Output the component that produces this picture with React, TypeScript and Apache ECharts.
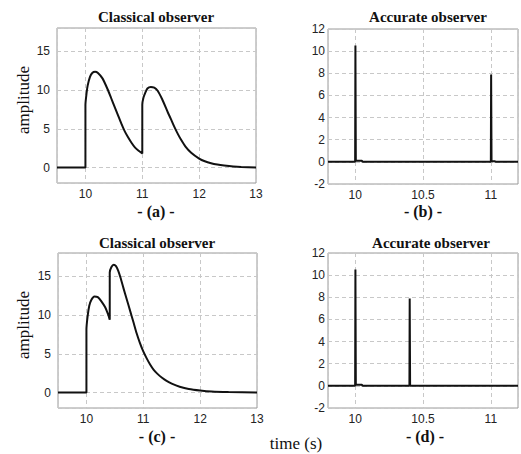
import React, { useEffect, useRef } from "react";
import * as echarts from "echarts";

// ---- data (time s, amplitude) ----
const classicalA: [number, number][] = [
  [9.5, 0], [10, 0], [10, 8.1], [10.02, 9.6], [10.04, 10.6], [10.08, 11.7], [10.12, 12.2],
  [10.17, 12.35], [10.22, 12.2], [10.3, 11.5], [10.39, 10.1], [10.45, 9.0], [10.51, 7.9],
  [10.57, 6.8], [10.63, 5.7], [10.69, 4.7], [10.75, 3.9], [10.81, 3.2], [10.87, 2.6],
  [10.93, 2.2], [11.0, 1.8], [11.0, 8.1], [11.02, 9.0], [11.05, 9.6], [11.09, 10.2],
  [11.15, 10.4], [11.21, 10.3], [11.27, 9.9], [11.35, 8.8], [11.45, 7.1], [11.5, 6.3],
  [11.56, 5.3], [11.62, 4.4], [11.68, 3.6], [11.76, 2.7], [11.86, 1.9], [12.0, 1.15],
  [12.1, 0.8], [12.21, 0.55], [12.32, 0.38], [12.44, 0.25], [12.6, 0.12], [12.74, 0.05], [13, 0],
];
const classicalC: [number, number][] = [
  [9.5, 0], [10, 0], [10, 8.1], [10.02, 9.8], [10.05, 11.2], [10.09, 12.0], [10.14, 12.4],
  [10.2, 12.3], [10.26, 11.8], [10.33, 11.0], [10.38, 10.1], [10.41, 9.4], [10.41, 15.5],
  [10.44, 16.2], [10.48, 16.5], [10.52, 16.3], [10.56, 15.7], [10.6, 14.8], [10.65, 13.5],
  [10.71, 12.0], [10.77, 10.5], [10.83, 9.0], [10.88, 7.7], [10.94, 6.4], [11.0, 5.3],
  [11.06, 4.4], [11.12, 3.6], [11.18, 2.95], [11.25, 2.4], [11.33, 1.9], [11.41, 1.5],
  [11.5, 1.15], [11.64, 0.75], [11.8, 0.45], [12.0, 0.25], [12.2, 0.12], [12.5, 0.05], [13, 0],
];
const accurateB: [number, number][] = [
  [9.8, 0], [10, 0], [10.002, 10.5], [10.005, 0.1], [10.05, 0.1], [10.055, 0],
  [11, 0], [11.002, 7.9], [11.005, 0.08], [11.03, 0.05], [11.035, 0], [11.2, 0],
];
const accurateD: [number, number][] = [
  [9.8, 0], [10, 0], [10.002, 10.5], [10.005, 0.1], [10.05, 0.1], [10.055, 0],
  [10.4, 0], [10.402, 7.9], [10.405, 0], [11.2, 0],
];

const panelTitles = ["Classical observer", "Accurate observer", "Classical observer", "Accurate observer"];
const panelLabels = ["- (a) -", "- (b) -", "- (c) -", "- (d) -"];
const yName = "amplitude";
const xName = "time (s)";

const SANS = "'Liberation Sans', Arial, sans-serif";
const SERIF = "'Liberation Serif', 'Times New Roman', serif";

const isMult = (v: number, step: number) => Math.abs(v / step - Math.round(v / step)) < 1e-6;

function App() {
  const ref = useRef<HTMLDivElement>(null);
  useEffect(() => {
    if (!ref.current) return;
    const chart = echarts.init(ref.current, undefined, { renderer: "svg" });

    const grids = [
      { left: 57, top: 28, width: 199, height: 155 },
      { left: 328, top: 29, width: 198, height: 155 },
      { left: 58, top: 253, width: 199, height: 155 },
      { left: 328, top: 253, width: 198, height: 155 },
    ].map((g) => ({ ...g, show: true, borderColor: "#9a9a9a", borderWidth: 1, containLabel: false }));

    const splitLine = { show: true, lineStyle: { color: "#c8c8c8", type: [4, 3] as any, width: 1 } };
    const labelStyle = { color: "#222", fontFamily: SANS, fontSize: 12 };

    const xCfg = (i: number, min: number, max: number, splitNumber: number, step: number) => ({
      type: "value",
      gridIndex: i,
      min,
      max,
      splitNumber,
      axisLine: { show: false },
      axisTick: { show: false },
      splitLine,
      axisLabel: {
        ...labelStyle,
        margin: 5,
        formatter: (v: number) => (isMult(v, step) ? String(v) : ""),
      },
    });
    const yCfg = (i: number, min: number, max: number, extra: any, step: number, margin: number) => ({
      type: "value",
      gridIndex: i,
      min,
      max,
      ...extra,
      axisLine: { show: false },
      axisTick: { show: false },
      splitLine,
      axisLabel: {
        ...labelStyle,
        margin,
        formatter: (v: number) => (isMult(v, step) ? String(v) : ""),
      },
    });

    const seriesData = [classicalA, accurateB, classicalC, accurateD];

    const titleCenters = [
      [156, 17], [428, 17], [157, 243], [431, 243],
    ];
    const labelCenters = [
      [156, 211], [423, 211], [157, 436], [425, 436],
    ];

    const txt = (x: number, y: number, text: string, font: string, rotation = 0) => ({
      type: "text",
      x,
      y,
      rotation,
      style: {
        text,
        font,
        fill: "#111",
        align: "center",
        verticalAlign: "middle",
        textAlign: "center",
        textVerticalAlign: "middle",
      },
    });

    const graphics: any[] = [];
    panelTitles.forEach((t, i) => graphics.push(txt(titleCenters[i][0], titleCenters[i][1], t, `bold 15px ${SERIF}`)));
    panelLabels.forEach((t, i) => graphics.push(txt(labelCenters[i][0], labelCenters[i][1], t, `bold 16px ${SERIF}`)));
    [100, 325].forEach((cy) => graphics.push(txt(23, cy, yName, `17px ${SERIF}`, Math.PI / 2)));
    graphics.push(txt(296, 443, xName, `17px ${SERIF}`));

    chart.setOption({
      animation: false,
      backgroundColor: "#ffffff",
      grid: grids,
      xAxis: [
        xCfg(0, 9.5, 13, 3, 1),
        xCfg(1, 9.8, 11.2, 3, 0.5),
        xCfg(2, 9.5, 13, 3, 1),
        xCfg(3, 9.8, 11.2, 3, 0.5),
      ],
      yAxis: [
        yCfg(0, -2, 18, { splitNumber: 4 }, 5, 7),
        yCfg(1, -2, 12, { interval: 2 }, 2, 3),
        yCfg(2, -2, 18, { splitNumber: 4 }, 5, 7),
        yCfg(3, -2, 12, { interval: 2 }, 2, 3),
      ],
      series: seriesData.map((d, i) => ({
        type: "line",
        xAxisIndex: i,
        yAxisIndex: i,
        data: d,
        showSymbol: false,
        symbol: "none",
        smooth: i % 2 === 0 ? 0.2 : false,
        lineStyle: { color: "#111", width: 2 },
        clip: true,
      })),
      graphic: graphics,
    });
    return () => chart.dispose();
  }, []);
  return (
    <div
      ref={ref}
      style={{ position: "fixed", left: 0, top: 0, width: 521, height: 454, background: "#fff" }}
    />
  );
}

export default App;
